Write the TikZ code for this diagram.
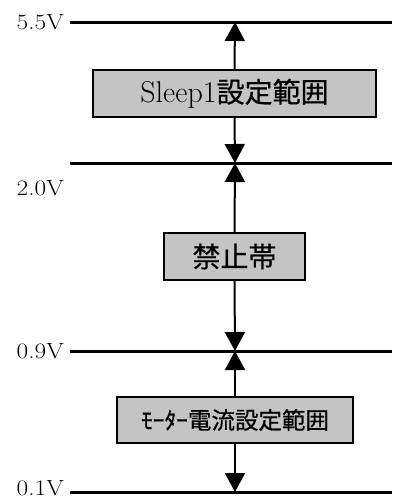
\documentclass[tikz,border=0pt]{standalone}
\usepackage{fontspec}
\usepackage{graphicx}
\newfontfamily\jp[FakeBold=0.6]{Noto Sans CJK JP}
\usetikzlibrary{arrows.meta}
\definecolor{boxgray}{RGB}{196,196,196}
\tikzset{
  level/.style={line width=3pt},
  vlabel/.style={anchor=east, inner sep=0pt, font=\fontsize{22}{22}\selectfont},
  band/.style={draw, line width=1.5pt, fill=boxgray, inner sep=0pt},
  arr/.style={line width=2pt, -{Triangle[length=19pt,width=20pt]}}
}
\newcommand{\wlab}[1]{\scalebox{1.15}[1]{#1}}
\begin{document}
\begin{tikzpicture}[x=1pt,y=-1pt]
\useasboundingbox (0,0) rectangle (392,499);
% level coordinates
\coordinate (l55) at (235,22);
\coordinate (l20) at (235,163);
\coordinate (l09) at (235,351);
\coordinate (l01) at (235,492);
\coordinate (s55) at (70,22);  \coordinate (e55) at (392,22);
\coordinate (s20) at (70,163); \coordinate (e20) at (392,163);
\coordinate (s09) at (70,351); \coordinate (e09) at (392,351);
\coordinate (s01) at (70,492); \coordinate (e01) at (392,492);
\draw[level] (s55) -- (e55);
\draw[level] (s20) -- (e20);
\draw[level] (s09) -- (e09);
\draw[level] (s01) -- (e01);
% labels
\node[vlabel] (t55) at (64,22) {\wlab{5.5V}};
\node[vlabel] (t20) at (64,188) {\wlab{2.0V}};
\node[vlabel] (t09) at (64,351) {\wlab{0.9V}};
\node[vlabel] (t01) at (64,488) {\wlab{0.1V}};
% boxes
\node[band, minimum width=283pt, minimum height=47pt] (b1) at (234.5,93.5)
  {\fontsize{30}{30}\selectfont Sleep1{\jp\fontsize{28}{28}\selectfont 設定範囲}};
\node[band, minimum width=141pt, minimum height=47pt] (b2) at (234.5,256.5)
  {\jp\fontsize{28}{28}\selectfont 禁止帯};
\node[band, minimum width=236pt, minimum height=46pt] (b3) at (235,420)
  {\jp\fontsize{23.5}{23.5}\selectfont ﾓｰﾀｰ電流設定範囲};
% arrows
\draw[arr] (b1.north) -- (l55);
\draw[arr] (b1.south) -- (l20);
\draw[arr] (b2.north) -- (l20);
\draw[arr] (b2.south) -- (l09);
\draw[arr] (b3.north) -- (l09);
\draw[arr] (b3.south) -- (l01);
\end{tikzpicture}
\end{document}
